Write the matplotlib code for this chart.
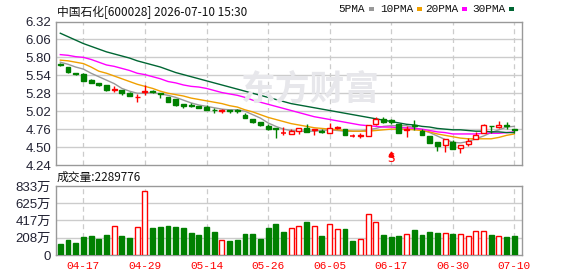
import matplotlib
matplotlib.use("Agg")
import matplotlib.pyplot as plt
from matplotlib.patches import Rectangle

plt.rcParams['font.family'] = ['Liberation Sans', 'Noto Sans CJK SC']

# --- 数据 ---
dates = ["04-14", "04-15", "04-16", "04-17", "04-20", "04-21", "04-22", "04-23", "04-24", "04-27",
         "04-28", "04-29", "04-30", "05-06", "05-07", "05-08", "05-11", "05-12", "05-13", "05-14",
         "05-15", "05-18", "05-19", "05-20", "05-21", "05-22", "05-25", "05-26", "05-27", "05-28",
         "05-29", "06-01", "06-02", "06-03", "06-04", "06-05", "06-08", "06-09", "06-10", "06-11",
         "06-12", "06-15", "06-16", "06-17", "06-18", "06-22", "06-23", "06-24", "06-25", "06-26",
         "06-29", "06-30", "07-01", "07-02", "07-03", "07-06", "07-07", "07-08", "07-09", "07-10"]
label_dates = ["04-17", "04-29", "05-14", "05-26", "06-05", "06-17", "06-30", "07-10"]

opens = [5.70, 5.66, 5.57, 5.56, 5.47, 5.43, 5.40, 5.33, 5.33, 5.28,
         5.22, 5.30, 5.31, 5.28, 5.23, 5.19, 5.13, 5.11, 5.10, 5.08,
         5.04, 5.02, 5.03, 5.03, 4.97, 4.91, 4.86, 4.81, 4.77, 4.70,
         4.69, 4.73, 4.77, 4.75, 4.73, 4.71, 4.78, 4.76, 4.66, 4.66,
         4.66, 4.84, 4.91, 4.89, 4.84, 4.75, 4.82, 4.74, 4.66, 4.58,
         4.53, 4.57, 4.48, 4.54, 4.62, 4.71, 4.81, 4.79, 4.82, 4.76]
highs = [5.72, 5.66, 5.58, 5.57, 5.49, 5.43, 5.40, 5.38, 5.33, 5.30,
         5.27, 5.40, 5.32, 5.29, 5.23, 5.19, 5.13, 5.14, 5.10, 5.11,
         5.06, 5.05, 5.04, 5.05, 4.99, 4.91, 4.86, 4.83, 4.77, 4.79,
         4.76, 4.78, 4.83, 4.76, 4.76, 4.85, 4.81, 4.76, 4.69, 4.70,
         4.82, 4.93, 4.93, 4.91, 4.84, 4.80, 4.89, 4.76, 4.66, 4.58,
         4.61, 4.60, 4.53, 4.63, 4.72, 4.84, 4.81, 4.88, 4.86, 4.76]
lows = [5.67, 5.57, 5.54, 5.46, 5.43, 5.39, 5.31, 5.30, 5.25, 5.24,
        5.16, 5.25, 5.28, 5.21, 5.16, 5.10, 5.07, 5.08, 5.06, 5.04,
        5.00, 4.99, 5.00, 5.00, 4.92, 4.85, 4.81, 4.75, 4.63, 4.67,
        4.69, 4.69, 4.72, 4.67, 4.71, 4.71, 4.76, 4.68, 4.64, 4.63,
        4.66, 4.82, 4.85, 4.83, 4.71, 4.65, 4.75, 4.67, 4.56, 4.45,
        4.43, 4.47, 4.42, 4.52, 4.62, 4.71, 4.70, 4.77, 4.76, 4.71]
closes = [5.69, 5.59, 5.56, 5.46, 5.43, 5.40, 5.33, 5.34, 5.29, 5.24,
          5.23, 5.31, 5.30, 5.27, 5.16, 5.11, 5.10, 5.10, 5.06, 5.04,
          5.03, 5.03, 5.02, 5.02, 4.92, 4.86, 4.82, 4.76, 4.76, 4.70,
          4.74, 4.77, 4.72, 4.76, 4.72, 4.77, 4.79, 4.68, 4.66, 4.67,
          4.82, 4.90, 4.87, 4.86, 4.71, 4.76, 4.81, 4.67, 4.56, 4.52,
          4.61, 4.47, 4.53, 4.59, 4.68, 4.82, 4.80, 4.82, 4.81, 4.75]
# 成交量 (万股)
volumes = [130, 179, 142, 215, 227, 191, 240, 345, 227, 203,
           333, 772, 325, 337, 349, 337, 325, 264, 240, 337,
           276, 187, 167, 179, 252, 252, 191, 325, 374, 276,
           321, 345, 398, 345, 227, 370, 309, 313, 167, 199,
           491, 394, 240, 215, 227, 248, 300, 240, 276, 264,
           260, 252, 248, 235, 284, 284, 240, 235, 215, 228.9776]

ma5 = [5.73, 5.70, 5.66, 5.63, 5.57, 5.52, 5.47, 5.42, 5.35, 5.31,
       5.28, 5.28, 5.29, 5.27, 5.25, 5.22, 5.18, 5.14, 5.11, 5.09,
       5.07, 5.05, 5.04, 5.04, 5.02, 4.97, 4.92, 4.85, 4.80, 4.76,
       4.74, 4.73, 4.73, 4.73, 4.74, 4.75, 4.74, 4.73, 4.73, 4.73,
       4.75, 4.77, 4.80, 4.81, 4.81, 4.81, 4.78, 4.75, 4.71, 4.66,
       4.61, 4.57, 4.56, 4.58, 4.62, 4.66, 4.71, 4.75, 4.79, 4.80]
ma10 = [5.76, 5.75, 5.73, 5.71, 5.66, 5.60, 5.57, 5.53, 5.49, 5.45,
        5.41, 5.38, 5.35, 5.31, 5.28, 5.26, 5.24, 5.21, 5.19, 5.17,
        5.15, 5.13, 5.10, 5.08, 5.04, 5.01, 4.97, 4.93, 4.90, 4.87,
        4.84, 4.82, 4.80, 4.78, 4.77, 4.76, 4.75, 4.74, 4.73, 4.73,
        4.73, 4.74, 4.75, 4.76, 4.76, 4.76, 4.75, 4.74, 4.72, 4.69,
        4.67, 4.65, 4.63, 4.62, 4.62, 4.62, 4.62, 4.64, 4.67, 4.69]
ma20 = [5.84, 5.83, 5.81, 5.80, 5.77, 5.73, 5.69, 5.67, 5.64, 5.61,
        5.57, 5.55, 5.52, 5.49, 5.45, 5.43, 5.40, 5.38, 5.37, 5.35,
        5.32, 5.29, 5.27, 5.25, 5.22, 5.18, 5.15, 5.12, 5.09, 5.06,
        5.03, 5.00, 4.97, 4.94, 4.92, 4.90, 4.88, 4.86, 4.84, 4.82,
        4.81, 4.80, 4.79, 4.79, 4.78, 4.78, 4.77, 4.76, 4.74, 4.72,
        4.71, 4.69, 4.69, 4.69, 4.69, 4.70, 4.70, 4.70, 4.71, 4.72]
ma30 = [6.15, 6.10, 6.05, 6.00, 5.96, 5.92, 5.88, 5.85, 5.82, 5.79,
        5.75, 5.72, 5.69, 5.66, 5.62, 5.58, 5.55, 5.52, 5.49, 5.46,
        5.43, 5.40, 5.37, 5.34, 5.31, 5.28, 5.25, 5.22, 5.19, 5.16,
        5.13, 5.11, 5.09, 5.07, 5.05, 5.03, 5.01, 4.99, 4.97, 4.95,
        4.93, 4.91, 4.89, 4.87, 4.85, 4.83, 4.82, 4.80, 4.79, 4.77,
        4.76, 4.75, 4.75, 4.74, 4.73, 4.73, 4.72, 4.72, 4.71, 4.71]

price_ticks = [4.24, 4.50, 4.76, 5.02, 5.28, 5.54, 5.80, 6.06, 6.32]
vol_ticks = [0, 208, 417, 625, 833]
signal_day = "06-17"

RED = "#ff0000"
GREEN = "#008000"
GRID = "#cccccc"
FRAME = "#999999"
W, H = 578, 276

fig = plt.figure(figsize=(W / 100, H / 100), dpi=100)
fig.patch.set_facecolor("white")
ax = fig.add_axes([56 / W, 1 - 165 / H, 466 / W, 143.5 / H])
axv = fig.add_axes([56 / W, 1 - 255 / H, 466 / W, 69 / H])

x = list(range(len(dates)))
label_idx = [dates.index(d) for d in label_dates]

for a in (ax, axv):
    a.set_xlim(-0.56, 60.0)
    for s in a.spines.values():
        s.set_color(FRAME)
        s.set_linewidth(1)
    a.tick_params(length=0)
    for i in label_idx:
        a.axvline(i, color=GRID, lw=0.9, ls=(0, (4, 3)), zorder=0)

# --- K线 ---
ax.set_ylim(price_ticks[0], price_ticks[-1])
for t in price_ticks[1:-1]:
    ax.axhline(t, color=GRID, lw=1, zorder=0)
bw = 0.64
for i in x:
    o, h, l, c = opens[i], highs[i], lows[i], closes[i]
    col = RED if c >= o else GREEN
    ax.vlines(i, l, h, color=col, lw=1, zorder=3)
    lo, hi = min(o, c), max(o, c)
    if hi - lo < 0.006:
        ax.hlines(lo, i - bw / 2, i + bw / 2, color=col, lw=1.1, zorder=4)
    else:
        fc = "white" if c >= o else GREEN
        ax.add_patch(Rectangle((i - bw / 2, lo), bw, hi - lo, facecolor=fc,
                               edgecolor=col, lw=1, zorder=4))

ax.plot(x, ma5, color="#999999", lw=1, zorder=2)
ax.plot(x, ma10, color="#f0a000", lw=1, zorder=2)
ax.plot(x, ma20, color="#ff00ff", lw=1, zorder=2)
ax.plot(x, ma30, color="#006633", lw=1, zorder=2)

ax.set_yticks(price_ticks)
ax.set_yticklabels(["%.2f" % t for t in price_ticks], fontsize=9.5, color="#222233")
ax.set_xticks([])

# 买卖点标记
si = dates.index(signal_day)
ax.plot(si, 4.395, marker="^", color=RED, ms=3.5, zorder=5)
ax.text(si, 4.236, "S", color=RED, fontsize=8.5, ha="center", va="bottom",
        family="DejaVu Sans", zorder=5)

# 水印
fig.text(310 / W, 1 - 89 / H, "东方财富", fontsize=25, color="#e7e7eb",
         family="Noto Sans CJK SC", weight="bold", ha="center", va="center", zorder=0)

# --- 成交量 ---
axv.set_ylim(0, vol_ticks[-1])
for t in vol_ticks[1:-1]:
    axv.axhline(t, color=GRID, lw=1, zorder=0)
for i in x:
    up = closes[i] > opens[i]
    axv.bar(i, volumes[i], width=bw, facecolor="white" if up else GREEN,
            edgecolor=RED if up else GREEN, lw=1, zorder=3)
axv.set_yticks(vol_ticks)
axv.set_yticklabels(["0" if t == 0 else "%d万" % t for t in vol_ticks],
                    fontsize=9.5, color="#222233")
axv.set_xticks(label_idx)
axv.set_xticklabels(label_dates, color=RED, fontsize=8, family="Liberation Mono")
axv.tick_params(axis="x", pad=4)

# --- 标题和图例 ---
fig.text(57 / W, 1 - 12 / H, "中国石化[600028] 2026-07-10 15:30", fontsize=8.5,
         family="Noto Sans CJK SC", color="#111111", va="center")
fig.text(57 / W, 1 - 177 / H, "成交量:%d" % round(volumes[-1] * 10000), fontsize=8.5,
         family="Noto Sans CJK SC", color="#111111", va="center")

legend = [("5PMA", "#999999", 338), ("10PMA", "#f0a000", 380),
          ("20PMA", "#ff00ff", 425), ("30PMA", "#006633", 472)]
for name, col, px in legend:
    t = fig.text(px / W, 1 - 9 / H, name, fontsize=8, family="Liberation Mono",
                 color="#111111", va="center")
    fig.canvas.draw()
    bb = t.get_window_extent()
    fig.patches.append(Rectangle(((bb.x1 + 4) / W, 1 - 11 / H), 5 / W, 4 / H,
                                 transform=fig.transFigure, facecolor=col,
                                 edgecolor="none"))

fig.savefig("out.png", dpi=100, facecolor="white")
